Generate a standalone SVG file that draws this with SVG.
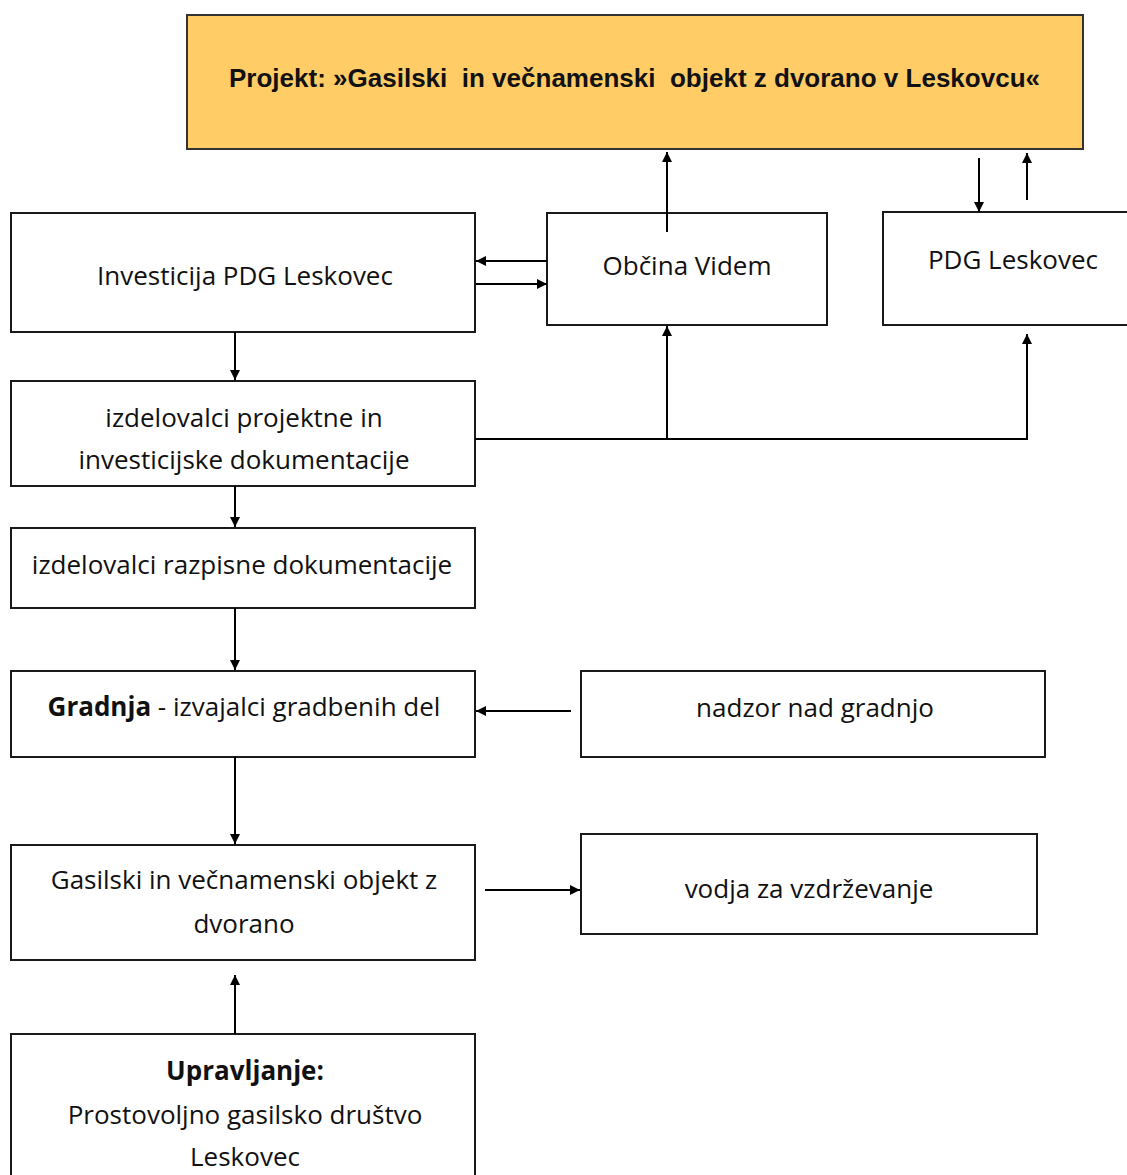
<svg xmlns="http://www.w3.org/2000/svg" width="1127" height="1175" viewBox="0 0 1127 1175">
<style>
.box{fill:#fff;stroke:#1a1a1a;stroke-width:2}
.t{font-family:"Open Sans","Noto Sans",sans-serif;font-size:26px;fill:#111;text-anchor:middle}
.b{font-weight:bold}
.c{stroke:#000;stroke-width:2;fill:none}
</style>
<defs>
<marker id="ah" viewBox="0 0 10 10" refX="10" refY="5" markerWidth="10" markerHeight="10" markerUnits="userSpaceOnUse" orient="auto">
<path d="M0,0 L10,5 L0,10 z" fill="#000"/>
</marker>
</defs>
<rect width="1127" height="1175" fill="#fff"/>
<g id="projekt">
<rect x="187" y="15" width="896" height="134" fill="#FFCC66" stroke="#333" stroke-width="2"/>
<text x="229" y="87" font-family="'Liberation Sans',Arial,sans-serif" font-weight="bold" font-size="25" fill="#111" textLength="811" lengthAdjust="spacingAndGlyphs" xml:space="preserve">Projekt: »Gasilski  in večnamenski  objekt z dvorano v Leskovcu«</text>
</g>
<g id="investicija">
<rect class="box" x="11" y="213" width="464" height="119"/>
<text class="t" x="245" y="285">Investicija PDG Leskovec</text>
</g>
<g id="obcina">
<rect class="box" x="547" y="213" width="280" height="112"/>
<text class="t" x="687" y="275">Občina Videm</text>
</g>
<g id="pdg">
<rect class="box" x="883" y="212" width="250" height="113"/>
<text class="t" x="1013" y="269">PDG Leskovec</text>
</g>
<g id="projektna">
<rect class="box" x="11" y="381" width="464" height="105"/>
<text class="t" x="244" y="427">izdelovalci projektne in</text>
<text class="t" x="244" y="469">investicijske dokumentacije</text>
</g>
<g id="razpisna">
<rect class="box" x="11" y="528" width="464" height="80"/>
<text class="t" x="242" y="574">izdelovalci razpisne dokumentacije</text>
</g>
<g id="gradnja">
<rect class="box" x="11" y="671" width="464" height="86"/>
<text class="t" x="244" y="716"><tspan class="b">Gradnja</tspan> - izvajalci gradbenih del</text>
</g>
<g id="nadzor">
<rect class="box" x="581" y="671" width="464" height="86"/>
<text class="t" x="815" y="717">nadzor nad gradnjo</text>
</g>
<g id="objekt">
<rect class="box" x="11" y="845" width="464" height="115"/>
<text class="t" x="244" y="889">Gasilski in večnamenski objekt z</text>
<text class="t" x="244" y="933">dvorano</text>
</g>
<g id="vodja">
<rect class="box" x="581" y="834" width="456" height="100"/>
<text class="t" x="809" y="898">vodja za vzdrževanje</text>
</g>
<g id="upravljanje">
<rect class="box" x="11" y="1034" width="464" height="150"/>
<text class="t b" x="245" y="1080">Upravljanje:</text>
<text class="t" x="245" y="1124">Prostovoljno gasilsko društvo</text>
<text class="t" x="245" y="1166">Leskovec</text>
</g>
<g id="connectors">
<line class="c" x1="667" y1="232" x2="667" y2="152" marker-end="url(#ah)"/>
<line class="c" x1="979" y1="158" x2="979" y2="212" marker-end="url(#ah)"/>
<line class="c" x1="1027" y1="200" x2="1027" y2="153" marker-end="url(#ah)"/>
<line class="c" x1="547" y1="261" x2="476" y2="261" marker-end="url(#ah)"/>
<line class="c" x1="476" y1="284" x2="547" y2="284" marker-end="url(#ah)"/>
<line class="c" x1="235" y1="332" x2="235" y2="380" marker-end="url(#ah)"/>
<polyline class="c" points="475,439 1027,439 1027,334" marker-end="url(#ah)"/>
<line class="c" x1="667" y1="439" x2="667" y2="326" marker-end="url(#ah)"/>
<line class="c" x1="235" y1="486" x2="235" y2="527" marker-end="url(#ah)"/>
<line class="c" x1="235" y1="608" x2="235" y2="670" marker-end="url(#ah)"/>
<line class="c" x1="571" y1="711" x2="476" y2="711" marker-end="url(#ah)"/>
<line class="c" x1="235" y1="757" x2="235" y2="844" marker-end="url(#ah)"/>
<line class="c" x1="485" y1="890" x2="580" y2="890" marker-end="url(#ah)"/>
<line class="c" x1="235" y1="1034" x2="235" y2="975" marker-end="url(#ah)"/>
</g>
</svg>
